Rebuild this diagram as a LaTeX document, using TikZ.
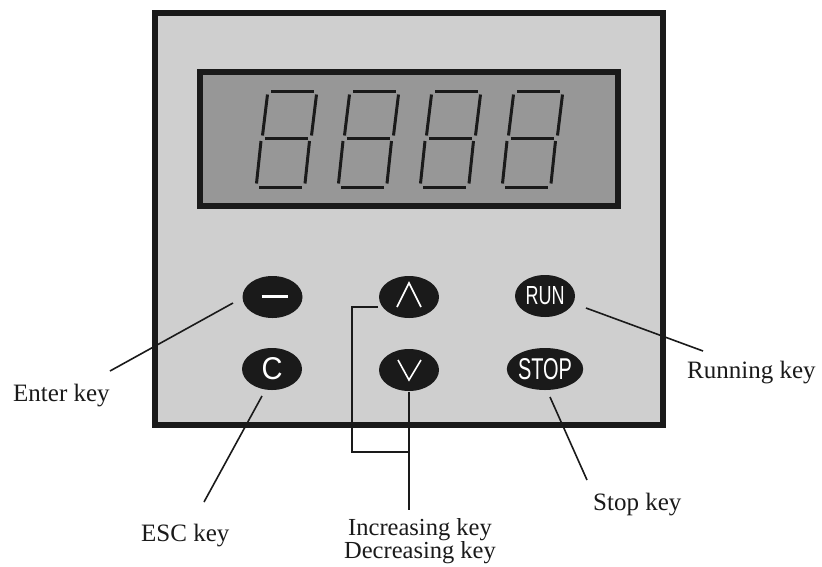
\documentclass[tikz,border=0pt]{standalone}
\usepackage{fontspec}
\usepackage{graphicx}
\setmainfont{Liberation Serif}
\newfontfamily\keyfont{Liberation Sans}
\usetikzlibrary{shapes.geometric}
\definecolor{panelgray}{HTML}{CFCFCF}
\definecolor{lcdgray}{HTML}{979797}
\definecolor{ink}{HTML}{1A1A1A}
\tikzset{
  panelframe/.style={draw=ink,line width=6pt,fill=panelgray},
  lcdframe/.style={draw=ink,line width=6pt,fill=lcdgray},
  seg/.style={draw=ink,line width=3pt},
  keybtn/.style={ellipse,fill=ink,draw=none,minimum width=60pt,minimum height=42pt,inner sep=0pt,text=white},
  glyph/.style={draw=white,line width=1.6pt},
  lead/.style={draw=ink,line width=1.6pt},
  lbl/.style={inner sep=0pt,font=\fontsize{25}{25}\selectfont,text=ink},
  lblsmall/.style={lbl,font=\fontsize{24.5}{24}\selectfont}
}
\begin{document}
\begin{tikzpicture}[x=1pt,y=-1pt]
\useasboundingbox (0,0) rectangle (822,566);
\fill[white] (0,0) rectangle (822,566);
% panel and display
\draw[panelframe] (154.5,13) rectangle (663,425);
\draw[lcdframe] (200,71.5) rectangle (618,206);
% seven-segment digits
\foreach \dx in {0,82,164,246}{
  \begin{scope}[xshift=\dx pt]
    \draw[seg] (271,91) -- (314,91);
    \draw[seg] (267.5,94.5) -- (262.5,135.5);
    \draw[seg] (316.5,94.5) -- (311.5,135.5);
    \draw[seg] (265,138) -- (308,138);
    \draw[seg] (261,141) -- (256.5,183.5);
    \draw[seg] (309.5,141) -- (305,183.5);
    \draw[seg] (259,187) -- (302,187);
  \end{scope}
}
% keys
\node[keybtn] (enter) at (272.5,297) {};
\node[keybtn] (up) at (409,297) {};
\node[keybtn] (run) at (545,296) {\resizebox{39pt}{18pt}{\keyfont RUN}};
\node[keybtn] (esc) at (272,369) {\resizebox{21pt}{22pt}{\keyfont C}};
\node[keybtn] (down) at (409,370) {};
\node[keybtn] (stop) at (545,369) {\resizebox{54pt}{21pt}{\keyfont STOP}};
\draw[draw=white,line width=3pt] ([shift={(-11,-1)}]enter.center) -- ([shift={(15,-1)}]enter.center);
\draw[glyph] ([shift={(-12,10)}]up.center) -- ([shift={(0,-14)}]up.center) -- ([shift={(12,10)}]up.center);
\draw[glyph] ([shift={(-11,-10)}]down.center) -- ([shift={(0,10)}]down.center) -- ([shift={(12,-10)}]down.center);
% labels
\node[lbl,anchor=base west] (lenter) at (13,401) {Enter key};
\node[lbl,anchor=base west] (lesc) at (141,541) {ESC key};
\node[lbl,anchor=base west] (lrun) at (687,378) {Running key};
\node[lbl,anchor=base west] (lstop) at (593,510) {Stop key};
\node[lblsmall,anchor=base] (linc) at (420,535) {Increasing key};
\node[lblsmall,anchor=base] (ldec) at (420,558.5) {Decreasing key};
% leader coordinates
\coordinate (e1) at (233,303); \coordinate (e2) at (110,371);
\coordinate (c1) at (262,396); \coordinate (c2) at (204,502);
\coordinate (r1) at (586,308); \coordinate (r2) at (703,351);
\coordinate (s1) at (550,397); \coordinate (s2) at (587,480);
\coordinate (u1) at (378,307); \coordinate (u2) at (352,307);
\coordinate (u3) at (352,452); \coordinate (u4) at (409,452);
\coordinate (d1) at (409,392); \coordinate (d2) at (409,510);
\draw[lead] (e1) -- (e2);
\draw[lead] (c1) -- (c2);
\draw[lead] (r1) -- (r2);
\draw[lead] (s1) -- (s2);
\draw[lead] (u1) -- (u2) -- (u3) -- (u4);
\draw[lead] (d1) -- (d2);
\end{tikzpicture}
\end{document}
